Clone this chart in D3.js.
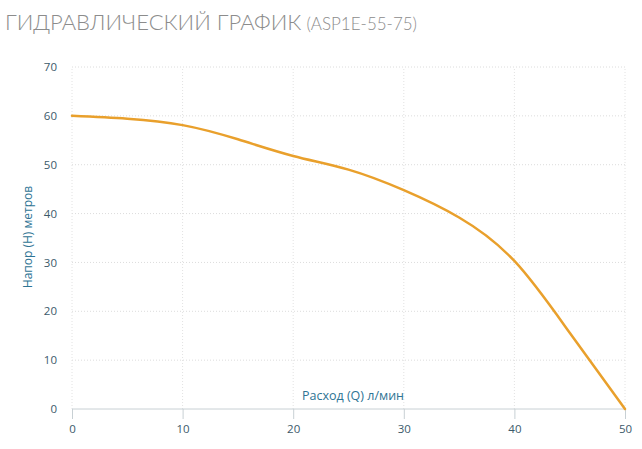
<!DOCTYPE html>
<html><head><meta charset="utf-8">
<script src="https://cdn.jsdelivr.net/npm/d3@7"></script>
<style>
body{margin:0;background:#fff;}
svg{display:block;}
</style></head>
<body>
<script>
const flowQ = [0, 5, 10, 15, 20, 25, 30, 35, 40, 45, 50];
const headH = [60, 59.4, 58.1, 55.2, 51.8, 49.0, 44.8, 39.2, 30.3, 15.6, 0];
const xTicks = [0, 10, 20, 30, 40, 50];
const yTicks = [0, 10, 20, 30, 40, 50, 60, 70];
const titleMain = "ГИДРАВЛИЧЕСКИЙ ГРАФИК";
const titleModel = "(ASP1E-55-75)";
const xTitle = "Расход (Q) л/мин";
const yTitle = "Напор (Н) метров";

const W = 642, H = 449;
const m = {left:72, right:17, top:67, bottom:40};
const svg = d3.select("body").append("svg").attr("width", W).attr("height", H);

const x = d3.scaleLinear().domain([0, 50]).range([m.left, W - m.right]);
const y = d3.scaleLinear().domain([0, 70]).range([H - m.bottom, m.top]);

// title
const t = svg.append("text").attr("x", 5).attr("y", 30)
  .attr("font-family", "Lato, 'Open Sans', sans-serif").attr("font-weight", 300).attr("fill", "#8c8c8c");
t.append("tspan").attr("font-size", 22).text(titleMain);
t.append("tspan").attr("font-size", 17).attr("dx", 5).text(titleModel);

// grid
svg.append("g").selectAll("line").data(yTicks.filter(d => d > 0)).join("line")
  .attr("x1", x(0)).attr("x2", x(50)).attr("y1", d => y(d)).attr("y2", d => y(d))
  .attr("stroke", "#dcdcdc").attr("stroke-dasharray", "1,2");
svg.append("g").selectAll("line").data(xTicks).join("line")
  .attr("x1", d => x(d)).attr("x2", d => x(d)).attr("y1", y(0)).attr("y2", y(70))
  .attr("stroke", "#e2e2e2").attr("stroke-dasharray", "1,2");

// x axis
const xAxis = svg.append("g").attr("transform", `translate(0,${y(0)})`)
  .call(d3.axisBottom(x).tickValues(xTicks).tickSize(10).tickPadding(6).tickFormat(d3.format("d")));
xAxis.select(".domain").attr("stroke", "#c8d0d4").attr("d", `M${x(0)},0H${x(50)}`);
xAxis.selectAll(".tick line").attr("stroke", "#c8d0d4");
xAxis.selectAll("text").attr("fill", "#3c5a6a").attr("font-size", 11.5)
  .attr("font-family", "'Open Sans', sans-serif");

// y axis labels
const yAxis = svg.append("g").attr("transform", `translate(${x(0)},0)`)
  .call(d3.axisLeft(y).tickValues(yTicks).tickSize(0).tickPadding(15).tickFormat(d3.format("d")));
yAxis.select(".domain").remove();
yAxis.selectAll("text").attr("fill", "#3c5a6a").attr("font-size", 11.5)
  .attr("font-family", "'Open Sans', sans-serif");

// axis titles
svg.append("text").attr("x", 353).attr("y", 400).attr("text-anchor", "middle")
  .attr("font-family", "'Open Sans', sans-serif").attr("font-size", 12.5).attr("fill", "#2e7494").text(xTitle);
svg.append("text").attr("transform", `translate(32,237) rotate(-90)`).attr("text-anchor", "middle")
  .attr("font-family", "'Open Sans', sans-serif").attr("font-size", 12).attr("fill", "#2e7494").text(yTitle);

// line
const pts = flowQ.map((q, i) => [q, headH[i]]);
svg.append("path").datum(pts)
  .attr("d", d3.line().x(d => x(d[0])).y(d => y(d[1])).curve(d3.curveNatural))
  .attr("fill", "none").attr("stroke", "#e9a02c").attr("stroke-width", 2.5).attr("stroke-linecap", "round");
</script>
</body></html>
